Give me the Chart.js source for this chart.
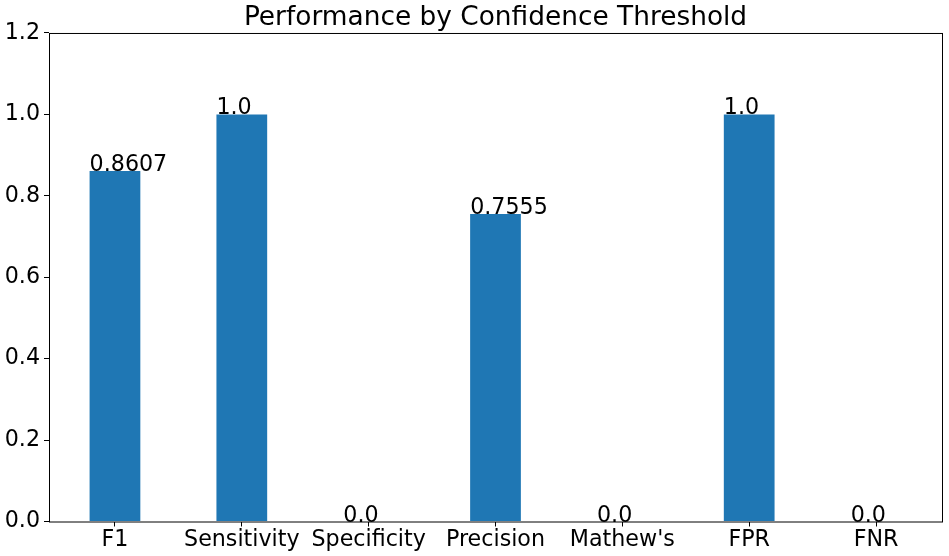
<!DOCTYPE html>
<html>
<head>
<meta charset="utf-8">
<script src="https://cdn.jsdelivr.net/npm/chart.js@4/dist/chart.umd.min.js"></script>
<style>
  html, body { margin: 0; padding: 0; background: #fff; }
  canvas { display: block; }
</style>
</head>
<body>
<canvas id="perfChart" width="949" height="556"></canvas>
<script>
// --- data ---
const metricLabels = ['F1', 'Sensitivity', 'Specificity', 'Precision', "Mathew's", 'FPR', 'FNR'];
const metricValues = [0.8607, 1.0, 0.0, 0.7555, 0.0, 1.0, 0.0];
const yTicks = [0, 0.2, 0.4, 0.6, 0.8, 1.0, 1.2];

const barWidth = 0.4; // in x units
const tickFont = 22.2;

const fmt = v => Number.isInteger(v) ? v.toFixed(1) : String(v);

// value text at the left edge of each bar, baseline on the bar top
const valueLabels = {
    id: 'valueLabels',
    afterDatasetsDraw(chart) {
        const { ctx, scales: { x, y } } = chart;
        ctx.save();
        ctx.font = tickFont + 'px "DejaVu Sans"';
        ctx.fillStyle = '#000';
        ctx.textAlign = 'left';
        ctx.textBaseline = 'alphabetic';
        metricValues.forEach((v, i) => {
            ctx.fillText(fmt(v), x.getPixelForValue(i - barWidth / 2), y.getPixelForValue(v));
        });
        ctx.restore();
    }
};

// box round the axes
const axesFrame = {
    id: 'axesFrame',
    afterDraw(chart) {
        const { ctx, chartArea: a } = chart;
        ctx.save();
        ctx.strokeStyle = '#000';
        ctx.lineWidth = 1;
        ctx.strokeRect(a.left + 0.5, a.top + 0.5, a.right - a.left, a.bottom - a.top);
        ctx.restore();
    }
};

// title sits over the plot centre, not the canvas centre
const titleShift = {
    id: 'titleShift',
    afterLayout(chart) {
        if (chart.titleBlock) chart.titleBlock.left = chart.chartArea.left;
    }
};

Chart.defaults.color = '#000';
Chart.defaults.font.family = '"DejaVu Sans", sans-serif';

new Chart(document.getElementById('perfChart'), {
    type: 'bar',
    data: {
        datasets: [{
            data: metricValues.map((v, i) => ({ x: i, y: v })),
            backgroundColor: '#1f77b4',
            borderWidth: 0,
            categoryPercentage: 1,
            barPercentage: barWidth
        }]
    },
    options: {
        responsive: false,
        animation: false,
        devicePixelRatio: 1,
        layout: { padding: { left: 0, right: 7, top: 0, bottom: 0 } },
        plugins: {
            legend: { display: false },
            tooltip: { enabled: false },
            title: {
                display: true,
                text: 'Performance by Confidence Threshold',
                font: { size: 26.4, weight: 'normal' },
                color: '#000',
                padding: { top: 2, bottom: -0.7 }
            }
        },
        scales: {
            x: {
                type: 'linear',
                offset: false,
                min: -0.52,
                max: 6.52,
                afterBuildTicks: s => { s.ticks = metricLabels.map((_, i) => ({ value: i })); },
                afterFit: s => { s.height = 34.5; },
                ticks: {
                    callback: v => metricLabels[v],
                    font: { size: tickFont },
                    padding: 0,
                    maxRotation: 0,
                    autoSkip: false
                },
                grid: { drawOnChartArea: false, tickLength: 5, color: '#000', offset: false },
                border: { display: false }
            },
            y: {
                min: 0,
                max: 1.2,
                afterBuildTicks: s => { s.ticks = yTicks.map(v => ({ value: v })); },
                afterFit: s => { s.width = 49; },
                ticks: {
                    callback: v => v.toFixed(1),
                    font: { size: tickFont },
                    padding: 4
                },
                grid: { drawOnChartArea: false, tickLength: 5, color: '#000' },
                border: { display: false }
            }
        }
    },
    plugins: [valueLabels, axesFrame, titleShift]
});
</script>
</body>
</html>
